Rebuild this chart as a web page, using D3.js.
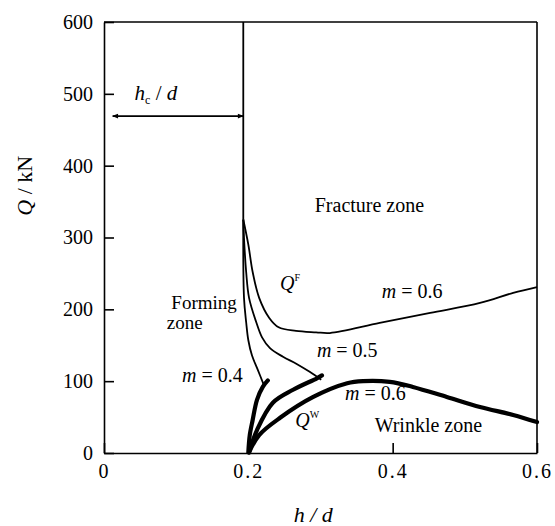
<!DOCTYPE html>
<html>
<head>
<meta charset="utf-8">
<script src="https://cdn.jsdelivr.net/npm/d3@7"></script>
<style>
  body { margin: 0; background: #fff; }
  text { font-family: "Liberation Serif", "DejaVu Serif", serif; fill: #000; }
</style>
</head>
<body>
<div id="chart"></div>
<script>
// Axis ticks
var xTicks = [0, 0.2, 0.4, 0.6];
var yTicks = [0, 100, 200, 300, 400, 500, 600];

// Critical h/d (vertical boundary)
var hc = 0.193;

// Q^F curves (thin)
var fracture06 = [[0.193, 325], [0.2, 290], [0.206, 252], [0.215, 216], [0.229, 188], [0.242, 175],
    [0.266, 170], [0.294, 168], [0.313, 167], [0.382, 181], [0.452, 195], [0.521, 209], [0.567, 223], [0.6, 231]];
var fracture05 = [[0.193, 325], [0.194, 299], [0.197, 252], [0.201, 216], [0.211, 182], [0.219, 161],
    [0.230, 146], [0.248, 134], [0.267, 124], [0.285, 113], [0.301, 102]];
var fracture04 = [[0.193, 325], [0.194, 216], [0.197, 182], [0.2, 157], [0.205, 136], [0.213, 116], [0.221, 96]];

// Q^W curves (thick)
var wrinkle06 = [[0.201, 1], [0.215, 25], [0.244, 49], [0.290, 78], [0.337, 97], [0.359, 100], [0.396, 99],
    [0.428, 92], [0.475, 78], [0.521, 64], [0.567, 53], [0.6, 43]];
var wrinkle05 = [[0.201, 1], [0.212, 32], [0.234, 70], [0.262, 88], [0.295, 104], [0.302, 108]];
var wrinkle04 = [[0.2, 1], [0.202, 25], [0.206, 46], [0.212, 74], [0.220, 92], [0.227, 101]];

var width = 555,
    height = 526,
    margin = { top: 22, right: 18, bottom: 73, left: 104 };

var svg = d3.select("#chart")
    .append("svg")
    .attr("width", width)
    .attr("height", height);

var x = d3.scaleLinear()
    .domain([0, 0.6])
    .range([margin.left, width - margin.right]);

var y = d3.scaleLinear()
    .domain([0, 600])
    .range([height - margin.bottom, margin.top]);

// arrow marker
var defs = svg.append("defs");
defs.append("marker")
    .attr("id", "arrow")
    .attr("viewBox", "0 0 10 10")
    .attr("refX", 9).attr("refY", 5)
    .attr("markerWidth", 9).attr("markerHeight", 6)
    .attr("markerUnits", "userSpaceOnUse")
    .attr("orient", "auto-start-reverse")
    .append("path")
    .attr("d", "M0,1L10,5L0,9Z")
    .attr("fill", "#000");

// Axes
var xAxis = svg.append("g")
    .attr("transform", `translate(0,${y(0)})`)
    .call(d3.axisBottom(x).tickValues(xTicks).tickSizeInner(-10).tickSizeOuter(0).tickPadding(11)
        .tickFormat(d => d === 0 ? "0" : d3.format(".1f")(d)));

var yAxis = svg.append("g")
    .attr("transform", `translate(${x(0)},0)`)
    .call(d3.axisLeft(y).tickValues(yTicks).tickSizeInner(-10).tickSizeOuter(0).tickPadding(11));

[xAxis, yAxis].forEach(function(g) {
    g.attr("font-family", "Liberation Serif").attr("font-size", 20);
    g.selectAll("text").attr("font-family", "Liberation Serif").attr("font-size", 20);
});
xAxis.selectAll("text").attr("letter-spacing", 2);
svg.selectAll(".domain, .tick line").attr("stroke", "#000").attr("stroke-width", 1.6);

// Top and right frame
svg.append("line")
    .attr("x1", x(0)).attr("x2", x(0.6)).attr("y1", y(600)).attr("y2", y(600))
    .attr("stroke", "#000").attr("stroke-width", 1.6);
svg.append("line")
    .attr("x1", x(0.6)).attr("x2", x(0.6)).attr("y1", y(600)).attr("y2", y(0))
    .attr("stroke", "#000").attr("stroke-width", 1.6);

// Vertical h_c/d line
svg.append("line")
    .attr("x1", x(hc)).attr("x2", x(hc)).attr("y1", y(600)).attr("y2", y(325))
    .attr("stroke", "#000").attr("stroke-width", 1.8);

var line = d3.line()
    .x(d => x(d[0]))
    .y(d => y(d[1]))
    .curve(d3.curveCatmullRom.alpha(0.5));

[fracture06, fracture05, fracture04].forEach(function(c) {
    svg.append("path")
        .attr("d", line(c))
        .attr("fill", "none")
        .attr("stroke", "#000")
        .attr("stroke-width", 1.8);
});

[wrinkle06, wrinkle05, wrinkle04].forEach(function(c) {
    svg.append("path")
        .attr("d", line(c))
        .attr("fill", "none")
        .attr("stroke", "#000")
        .attr("stroke-width", 4.2)
        .attr("stroke-linecap", "round");
});

// h_c/d arrow
svg.append("line")
    .attr("x1", x(0.012)).attr("x2", x(hc))
    .attr("y1", y(469)).attr("y2", y(469))
    .attr("stroke", "#000").attr("stroke-width", 1.6)
    .attr("marker-start", "url(#arrow)")
    .attr("marker-end", "url(#arrow)");

var hcLabel = svg.append("text")
    .attr("x", x(0.072)).attr("y", y(492))
    .attr("text-anchor", "middle")
    .style("font-size", "21px");
hcLabel.append("tspan").style("font-style", "italic").text("h");
hcLabel.append("tspan").attr("dy", 4).style("font-size", "12px").text("c");
hcLabel.append("tspan").attr("dy", -4).text(" / ");
hcLabel.append("tspan").style("font-style", "italic").text("d");

// zone labels
function plain(t, xv, yv, anchor, size) {
    svg.append("text")
        .attr("x", x(xv)).attr("y", y(yv))
        .attr("text-anchor", anchor || "start")
        .style("font-size", (size || 20) + "px")
        .text(t);
}
plain("Fracture zone", 0.292, 335);
plain("Forming", 0.184, 201, "end", 19);
plain("zone", 0.087, 173, "start", 19);
plain("Wrinkle zone", 0.375, 29);

function mLabel(v, xv, yv) {
    var t = svg.append("text")
        .attr("x", x(xv)).attr("y", y(yv))
        .style("font-size", "20px");
    t.append("tspan").style("font-style", "italic").text("m");
    t.append("tspan").text(" = " + v);
}
mLabel("0.6", 0.385, 216);
mLabel("0.5", 0.295, 133);
mLabel("0.4", 0.108, 99);
mLabel("0.6", 0.334, 74);

function qLabel(sup, xv, yv) {
    var t = svg.append("text")
        .attr("x", x(xv)).attr("y", y(yv))
        .style("font-size", "20px");
    t.append("tspan").style("font-style", "italic").text("Q");
    t.append("tspan").attr("dy", -9).style("font-size", "10px").text(sup);
}
qLabel("F", 0.244, 227);
qLabel("W", 0.265, 36);

// axis titles
var yTitle = svg.append("text")
    .attr("transform", `translate(32,${y(372)}) rotate(-90)`)
    .attr("text-anchor", "middle")
    .style("font-size", "22px");
yTitle.append("tspan").style("font-style", "italic").text("Q");
yTitle.append("tspan").text(" / kN");

var xTitle = svg.append("text")
    .attr("x", x(0.29)).attr("y", 522)
    .attr("text-anchor", "middle")
    .style("font-size", "22px")
    .style("font-style", "italic")
    .text("h / d");
</script>
</body>
</html>
